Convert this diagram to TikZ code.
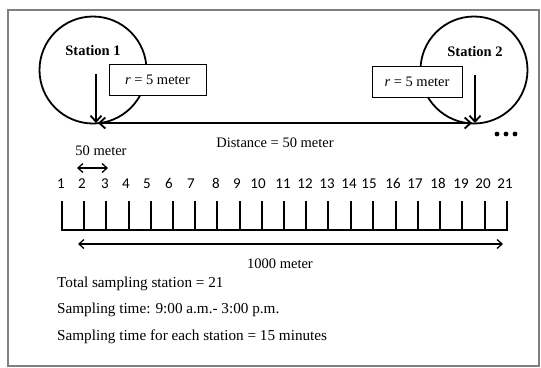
\documentclass[tikz,border=0pt]{standalone}
\usepackage{fontspec}
\setmainfont{Liberation Serif}
\newfontfamily\numfont[Numbers={Lining,Tabular}]{Carlito}
\usetikzlibrary{arrows.meta}
\begin{document}
\begin{tikzpicture}[x=1pt,y=-1pt,
  txt/.style={inner sep=0pt,font=\fontsize{14.5}{16}\selectfont},
  note/.style={inner sep=0pt,anchor=base west,font=\fontsize{15.2}{17}\selectfont},
  bold/.style={txt,font=\fontsize{14.5}{16}\selectfont\bfseries},
  num/.style={inner sep=0pt,anchor=base,font=\fontsize{15}{17}\selectfont\numfont},
  stationcircle/.style={circle,draw,line width=1.8pt,minimum size=107pt,inner sep=0pt},
  rbox/.style={draw,line width=0.7pt,minimum width=97pt,minimum height=31pt,inner sep=0pt,font=\fontsize{14.5}{16}\selectfont},
  thick arrow/.style={line width=1.8pt,-{Straight Barb[length=6pt,width=11pt,line width=1.8pt]}},
  thin arrow/.style={line width=1.3pt,{Straight Barb[length=5pt,width=9pt,line width=1.3pt]}-{Straight Barb[length=5pt,width=9pt,line width=1.3pt]}}
]
\useasboundingbox (0,0) rectangle (541,367);
% frame
\draw[line width=1.8pt,color=gray] (8,10) rectangle (539,366);
% stations
\node[stationcircle] (c1) at (93,70) {};
\node[stationcircle] (c2) at (474,70) {};
\node[bold] (st1) at (93,51) {Station 1};
\node[bold] (st2) at (475,52) {Station 2};
\node[rbox,fill=white] (b1) at (157.5,80) {\textit{r} = 5 meter};
\node[rbox,fill=white,minimum width=90pt] (b2) at (417,81.5) {\textit{r} = 5 meter};
% radius arrows
\coordinate (a1top) at (96,74);
\coordinate (a1bot) at (96,123);
\coordinate (a2top) at (475,75);
\coordinate (a2bot) at (475,123);
\draw[thick arrow] (a1top) -- (a1bot);
\draw[thick arrow] (a2top) -- (a2bot);
% distance arrow
\coordinate (d1) at (98,123);
\coordinate (d2) at (472,123);
\draw[line width=1.8pt,{Straight Barb[length=6pt,width=11pt,line width=1.8pt]}-{Straight Barb[length=6pt,width=11pt,line width=1.8pt]}] (d1) -- (d2);
% dots
\foreach \i/\x in {1/497,2/506,3/515} \fill (\x,134) circle (2.4pt) coordinate (dot\i);
\node[txt] (dist) at (275,143) {Distance = 50 meter};
% 50 meter
\node[txt] (fifty) at (101,151) {50 meter};
\coordinate (f1) at (77,168);
\coordinate (f2) at (108,168);
\draw[thin arrow] (f1) -- (f2);
% numbers
\foreach \n/\x in {1/61,2/82,3/105,4/126,5/147,6/169,7/191,8/216,9/237,10/258,11/283,12/305,13/327,14/349,15/369,16/393,17/415,18/438,19/461,20/483,21/505}
  \node[num] (n\n) at (\x,188.5) {\n};
% scale
\draw[line width=2pt,line join=miter] (62,201) -- (62,230) -- (507,230) -- (507,201);
\foreach \x in {84,106,129,151,173,195,217,240,262,284,306,328,351,373,396,418,440,462,485} \draw[line width=2pt] (\x,201) -- (\x,230);
% 1000 meter
\coordinate (k1) at (78,244);
\coordinate (k2) at (503,244);
\draw[thin arrow] (k1) -- (k2);
\node[txt] (km) at (280,264) {1000 meter};
% notes
\node[note] (t1) at (57,287) {Total sampling station = 21};
\node[note] (t2) at (57,313) {Sampling time: 9:00 a.m.- 3:00 p.m.};
\node[note] (t3) at (57,340) {Sampling time for each station = 15 minutes};
\end{tikzpicture}
\end{document}
